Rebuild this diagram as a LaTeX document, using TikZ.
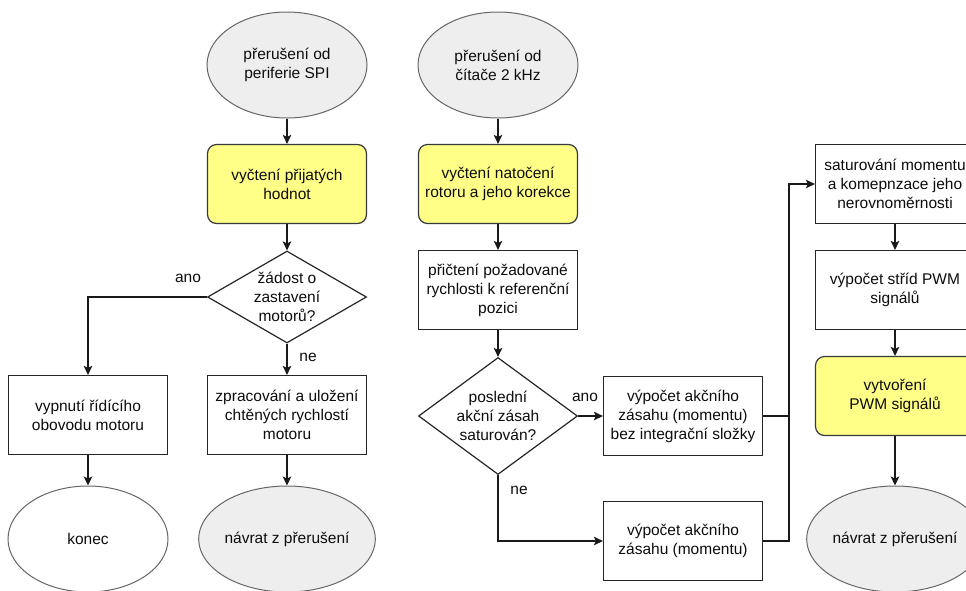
\documentclass[tikz,border=0pt]{standalone}
\usepackage{fontspec}
\setmainfont{Liberation Sans}
\usetikzlibrary{shapes.geometric,arrows.meta}
\definecolor{termgray}{HTML}{EEEEEE}
\definecolor{hlyellow}{HTML}{FFFF88}
\definecolor{strokedark}{HTML}{36393D}
\begin{document}
\begin{tikzpicture}[x=1pt,y=-1pt,
  every node/.style={font=\fontsize{15.5}{19}\selectfont, align=center, text=black!95},
  procbox/.style={rectangle, draw=black!85, line width=1.2pt, minimum width=159pt, minimum height=79pt, inner sep=2pt},
  yelbox/.style={procbox, rounded corners=9pt, fill=hlyellow, draw=strokedark},
  termnode/.style={ellipse, draw=black!60, line width=1pt, fill=termgray, minimum width=160pt, minimum height=106pt, inner sep=0pt},
  decnode/.style={diamond, draw=black!85, line width=1.2pt, minimum width=159pt, inner sep=0pt},
  lbl/.style={inner sep=0pt},
  conn/.style={line width=1.2pt, draw=black!90},
  arr/.style={conn, -{Stealth[length=9pt,width=8.5pt,inset=2pt]}}
]
\useasboundingbox (0,0) rectangle (966,590);
\clip (0,0) rectangle (966,590);
\fill[white] (0,0) rectangle (966,590);

% left column
\node[termnode] (e1) at (287,65) {přerušení od\\periferie SPI};
\node[yelbox] (y1) at (287,184) {vyčtení přijatých\\hodnot};
\node[decnode, minimum height=92pt, label={[lbl]center:žádost o\\zastavení\\motorů?}] (d1) at (287,297) {};
\node[procbox] (bL) at (88,415) {vypnutí řídícího\\obovodu motoru};
\node[procbox] (bR) at (287,415) {zpracování a uložení\\chtěných rychlostí\\motoru};
\node[termnode, fill=white] (k1) at (88,539) {konec};
\node[termnode] (r1) at (287,539) {návrat z přerušení};

% middle column
\node[termnode] (e2) at (498,65) {přerušení od\\čítače 2 kHz};
\node[yelbox] (y2) at (498,184) {vyčtení natočení\\rotoru a jeho korekce};
\node[procbox] (p1) at (498,290) {přičtení požadované\\rychlosti k referenční\\pozici};
\node[decnode, minimum height=117pt, label={[lbl]center:poslední\\akční zásah\\saturován?}] (d2) at (498,416) {};
\node[procbox] (a1) at (683,416) {výpočet akčního\\zásahu (momentu)\\bez integrační složky};
\node[procbox] (a2) at (683,541) {výpočet akčního\\zásahu (momentu)};

% right column
\node[procbox] (s1) at (895,184) {saturování momentu\\a komepnzace jeho\\nerovnoměrnosti};
\node[procbox] (w1) at (895,290) {výpočet stříd PWM\\signálů};
\node[yelbox] (v1) at (895,396) {vytvoření\\PWM signálů};
\node[termnode] (r2) at (895,539) {návrat z přerušení};
\coordinate (J) at (789,184);

% labels
\node[lbl] (l1) at (188,278) {ano};
\node[lbl] (l2) at (308,357) {ne};
\node[lbl] (l3) at (585,397) {ano};
\node[lbl] (l4) at (519,490) {ne};

% connectors
\draw[arr] (e1) -- (y1);
\draw[arr] (y1) -- (d1);
\draw[arr] (d1.west) -| (bL.north);
\draw[arr] (d1.south) -- (bR.north);
\draw[arr] (bL) -- (k1);
\draw[arr] (bR) -- (r1);

\draw[arr] (e2) -- (y2);
\draw[arr] (y2) -- (p1);
\draw[arr] (p1) -- (d2);
\draw[arr] (d2.east) -- (a1.west);
\draw[arr] (d2.south) |- (a2.west);
\draw[conn] (a1.east) -- (a1.east -| J);
\draw[arr] (a2.east) -| (J) -- (s1.west);

\draw[arr] (s1) -- (w1);
\draw[arr] (w1) -- (v1);
\draw[arr] (v1) -- (r2);
\end{tikzpicture}
\end{document}
